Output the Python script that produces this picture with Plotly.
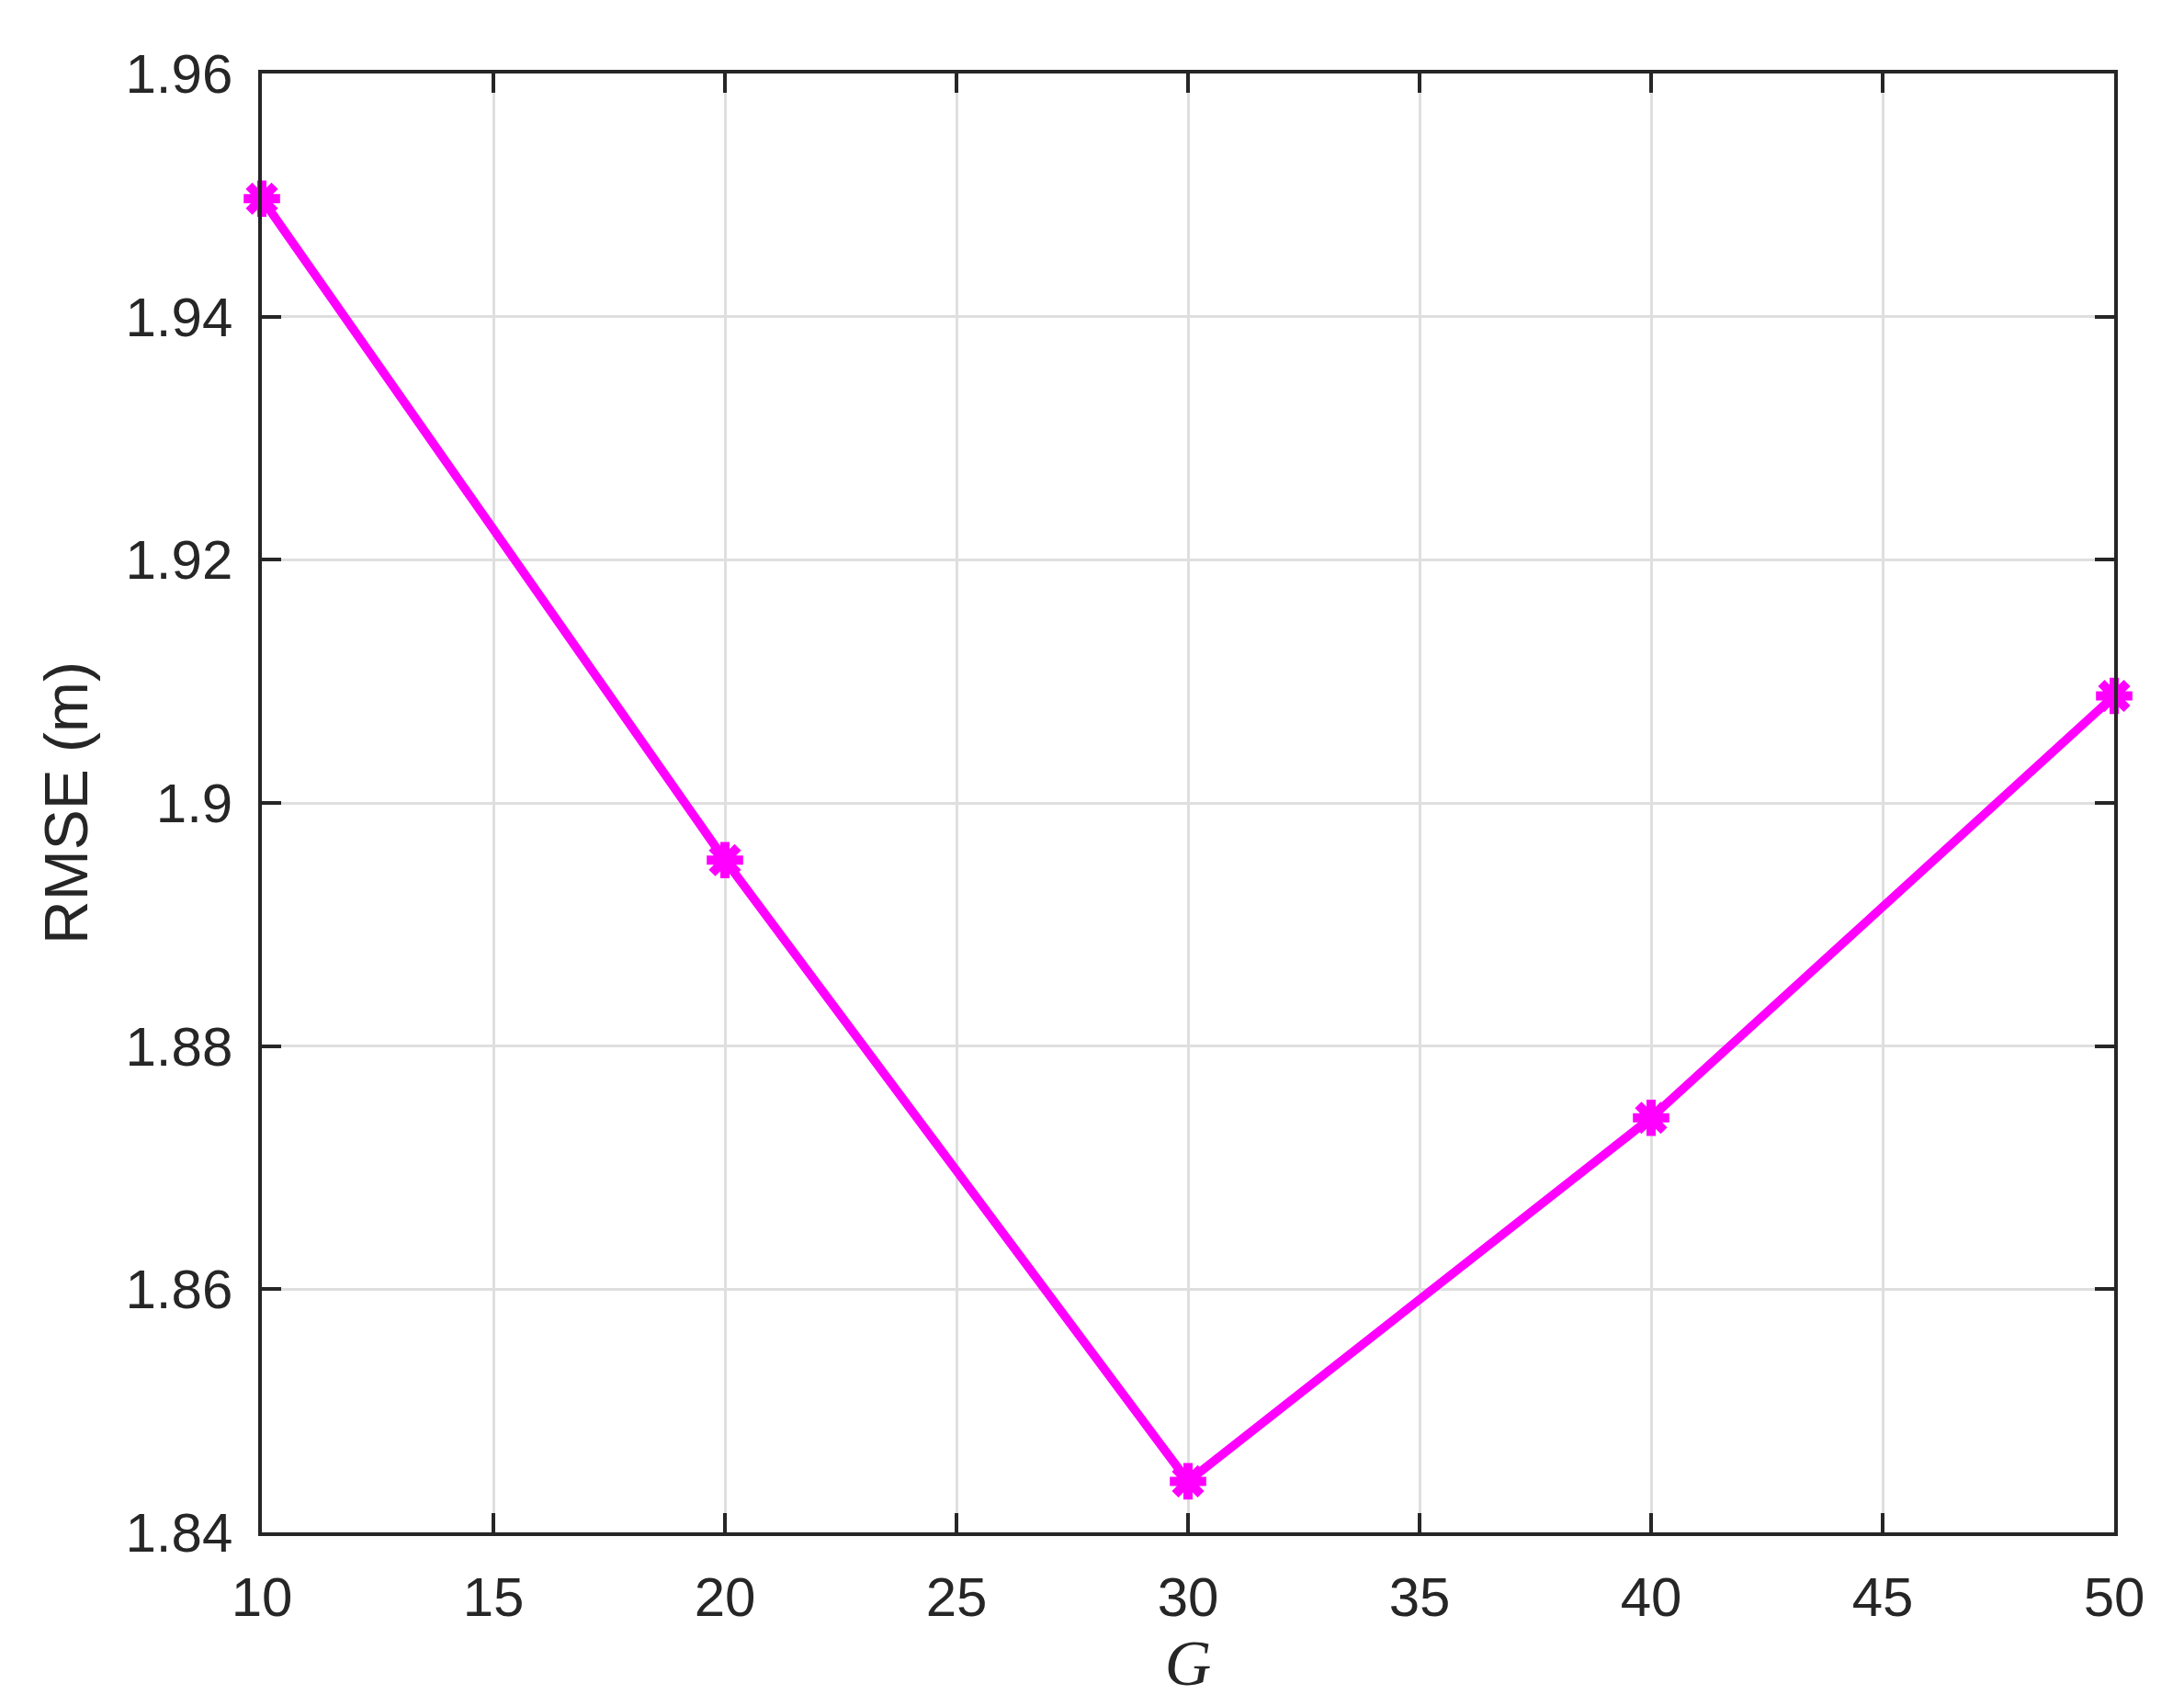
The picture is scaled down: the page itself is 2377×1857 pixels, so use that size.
import plotly.graph_objects as go

# RMSE vs G
g_values = [10, 20, 30, 40, 50]
rmse_values = [1.9497, 1.8953, 1.8442, 1.8741, 1.9088]

x_ticks = [10, 15, 20, 25, 30, 35, 40, 45, 50]
y_ticks = [1.84, 1.86, 1.88, 1.90, 1.92, 1.94, 1.96]
y_tick_text = ['1.84', '1.86', '1.88', '1.9', '1.92', '1.94', '1.96']

AXIS_COLOR = '#262626'
GRID_COLOR = '#dfdfdf'
MAGENTA = '#ff00ff'

fig = go.Figure()
fig.add_trace(go.Scatter(
    x=g_values,
    y=rmse_values,
    mode='lines+markers',
    line=dict(color=MAGENTA, width=9.5),
    marker=dict(symbol='asterisk-open', size=33,
                line=dict(color=MAGENTA, width=10)),
    cliponaxis=False,
    showlegend=False,
))

axis_common = dict(
    showline=True, linecolor=AXIS_COLOR, linewidth=3.5, mirror='ticks',
    ticks='inside', ticklen=21, tickwidth=3.5, tickcolor=AXIS_COLOR,
    showgrid=True, gridcolor=GRID_COLOR, gridwidth=3,
    zeroline=False,
    tickfont=dict(family='Liberation Sans, Arial, sans-serif', size=60, color=AXIS_COLOR),
)

fig.update_xaxes(
    range=[10, 50], tickmode='array', tickvals=x_ticks,
    ticklabelstandoff=15,
    title=dict(text='<i>G</i>', standoff=8,
               font=dict(family='Liberation Serif, Times New Roman, serif', size=70, color=AXIS_COLOR)),
    **axis_common,
)
fig.update_yaxes(
    range=[1.84, 1.96], tickmode='array', tickvals=y_ticks, ticktext=y_tick_text,
    ticklabelstandoff=16,
    title=dict(text='RMSE (m)', standoff=20,
               font=dict(family='Liberation Sans, Arial, sans-serif', size=66, color=AXIS_COLOR)),
    **axis_common,
)

# the page body adds an 8 px offset, so margins are trimmed to match
fig.update_layout(
    width=2377, height=1857,
    margin=dict(l=277, r=84, t=72, b=197),
    paper_bgcolor='white', plot_bgcolor='white',
)

fig.write_html("out.html")
